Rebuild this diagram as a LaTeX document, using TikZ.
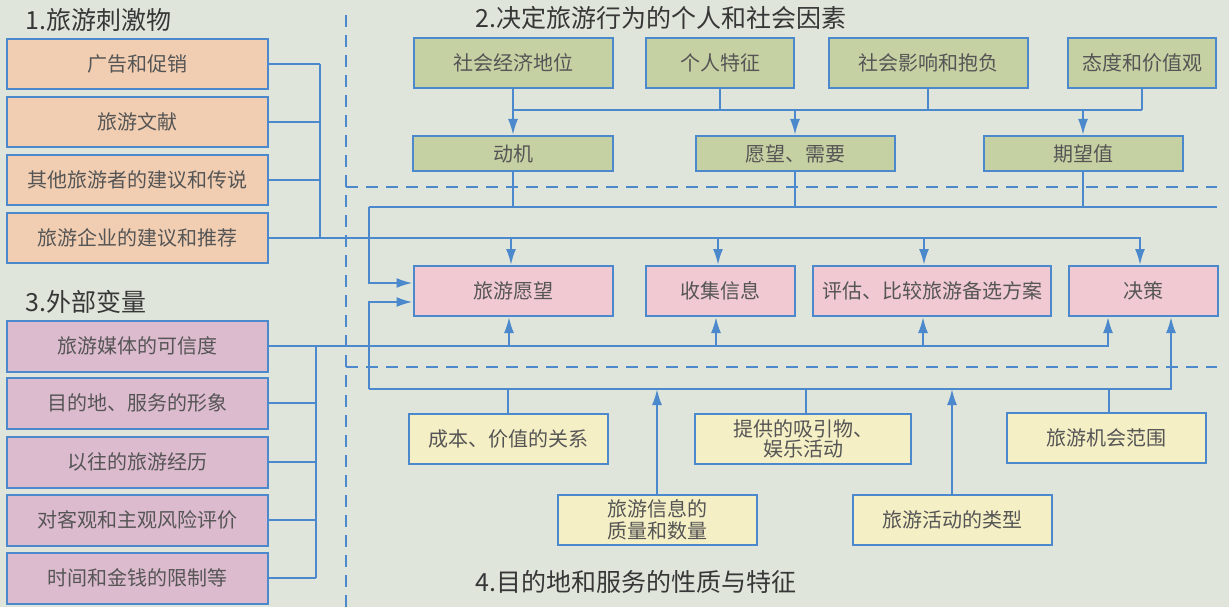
\documentclass[tikz,border=0pt]{standalone}
\usepackage{fontspec}
\setmainfont{Noto Sans CJK SC}
\usetikzlibrary{arrows.meta,calc}
\definecolor{bgcolor}{RGB}{223,229,219}
\definecolor{linecolor}{RGB}{76,136,204}
\definecolor{stimfill}{RGB}{241,206,178}
\definecolor{factfill}{RGB}{198,209,163}
\definecolor{stepfill}{RGB}{240,201,211}
\definecolor{extfill}{RGB}{221,187,207}
\definecolor{destfill}{RGB}{245,239,197}
\definecolor{textgray}{RGB}{85,85,85}
\definecolor{headgray}{RGB}{55,55,55}
\tikzset{
    box/.style={
        draw=linecolor,
        line width=2pt,
        minimum height=50pt,
        inner sep=0pt,
        align=center,
        text=textgray,
        font=\fontsize{20}{22}\selectfont
    },
    stimulus/.style={box, fill=stimfill, minimum width=261pt},
    external/.style={box, fill=extfill, minimum width=261pt, minimum height=51pt},
    factor/.style={box, fill=factfill},
    stepbox/.style={box, fill=stepfill},
    dest/.style={box, fill=destfill, minimum width=199pt},
    link/.style={draw=linecolor, line width=2pt},
    feed/.style={link, -{Latex[length=16pt,width=10pt]}},
    divider/.style={draw=linecolor, line width=1.6pt, dash pattern=on 12pt off 8pt},
    heading/.style={anchor=west, text=headgray, font=\fontsize{25}{27}\selectfont},
}
\begin{document}
\begin{tikzpicture}[x=1pt, y=-1pt]
    \fill[bgcolor] (0,0) rectangle (1229,607);
    \useasboundingbox (0,0) rectangle (1229,607);

    % Headings
    \node[heading] (h1) at (22,20) {1.旅游刺激物};
    \node[heading] (h2) at (472,18) {2.决定旅游行为的个人和社会因素};
    \node[heading] (h3) at (22,302) {3.外部变量};
    \node[heading] (h4) at (472,582) {4.目的地和服务的性质与特征};

    % Dividers
    \draw[divider] (346,15) -- (346,607);
    \draw[divider] (346,187) -- (1217,187);
    \draw[divider] (346,367) -- (1217,367);

    % Tourism stimuli
    \node[stimulus] (s1) at (137.5,64) {广告和促销};
    \node[stimulus] (s2) at (137.5,122) {旅游文献};
    \node[stimulus] (s3) at (137.5,180) {其他旅游者的建议和传说};
    \node[stimulus] (s4) at (137.5,238) {旅游企业的建议和推荐};

    % External variables
    \node[external] (e1) at (137.5,346) {旅游媒体的可信度};
    \node[external] (e2) at (137.5,403) {目的地、服务的形象};
    \node[external] (e3) at (137.5,462) {以往的旅游经历};
    \node[external] (e4) at (137.5,520) {对客观和主观风险评价};
    \node[external] (e5) at (137.5,578) {时间和金钱的限制等};

    % Personal and social factors
    \node[factor, minimum width=199pt] (f1) at (513,63) {社会经济地位};
    \node[factor, minimum width=148pt] (f2) at (720,63) {个人特征};
    \node[factor, minimum width=199pt] (f3) at (928,63) {社会影响和抱负};
    \node[factor, minimum width=148pt] (f4) at (1142,63) {态度和价值观};
    \node[factor, minimum width=200pt, minimum height=35pt] (motive) at (513,153.5) {动机};
    \node[factor, minimum width=199pt, minimum height=35pt] (wish) at (795,153.5) {愿望、需要};
    \node[factor, minimum width=199pt, minimum height=35pt] (expect) at (1083,153.5) {期望值};

    % Decision steps
    \node[stepbox, minimum width=199pt] (desire) at (513,291) {旅游愿望};
    \node[stepbox, minimum width=149pt] (gather) at (720,291) {收集信息};
    \node[stepbox, minimum width=238pt] (assess) at (932,291) {评估、比较旅游备选方案};
    \node[stepbox, minimum width=149pt] (decide) at (1143,291) {决策};

    % Destination and services
    \node[dest] (d1) at (508,439) {成本、价值的关系};
    \node[dest, minimum width=216pt, font=\fontsize{20}{20}\selectfont] (d2) at (803,438.5) {提供的吸引物、\\娱乐活动};
    \node[dest] (d3) at (1106,437.5) {旅游机会范围};
    \node[dest, font=\fontsize{20}{22}\selectfont] (d4) at (657,520) {旅游信息的\\质量和数量};
    \node[dest] (d5) at (952,519.5) {旅游活动的类型};

    \coordinate (sv) at (320,0);
    \coordinate (ev) at (316,0);
    \coordinate (fj) at (0,110);
    \coordinate (fb) at (369,207);
    \coordinate (fbr) at (1217,207);
    \coordinate (bl) at (369,389);

    % Stimuli to the decision steps
    \foreach \n in {s1,s2,s3,s4}
      \draw[link] (\n.east) -- (\n.east -| sv);
    \draw[link] (s1.east -| sv) -- (s4.east -| sv);
    \draw[feed] (s4.east) -| ([xshift=-3pt]decide.north);
    \draw[feed] ([xshift=-2pt]desire.north |- s4.east) -- ([xshift=-2pt]desire.north);
    \draw[feed] ([xshift=-2pt]gather.north |- s4.east) -- ([xshift=-2pt]gather.north);
    \draw[feed] ([xshift=-8pt]assess.north |- s4.east) -- ([xshift=-8pt]assess.north);

    % External variables to the decision steps
    \foreach \n in {e1,e2,e3,e4,e5}
      \draw[link] (\n.east) -- (\n.east -| ev);
    \draw[link] (e1.east -| ev) -- (e5.east -| ev);
    \draw[feed] (e1.east) -| ([xshift=-35pt]decide.south);
    \draw[feed] ([xshift=-4pt]desire.south |- e1.east) -- ([xshift=-4pt]desire.south);
    \draw[feed] ([xshift=-4pt]gather.south |- e1.east) -- ([xshift=-4pt]gather.south);
    \draw[feed] ([xshift=-9pt]assess.south |- e1.east) -- ([xshift=-9pt]assess.south);

    % Factors
    \draw[link] (f1.south |- fj) -- (f4.south |- fj);
    \foreach \n in {f2,f3,f4}
      \draw[link] (\n.south) -- (\n.south |- fj);
    \draw[feed] (f1.south) -- (motive.north);
    \draw[feed] (wish.north |- fj) -- (wish.north);
    \draw[feed] (expect.north |- fj) -- (expect.north);

    % Factors into the tourism desire
    \draw[link] (fbr) -- (fb);
    \foreach \n in {motive,wish,expect}
      \draw[link] (\n.south) -- (\n.south |- fb);
    \draw[feed] (fb) |- ([yshift=8pt]desire.west);

    % Destination into the decision steps
    \draw[feed] (bl) |- ([yshift=-11pt]desire.west);
    \draw[feed] (bl) -| ([xshift=28pt]decide.south);
    \draw[link] (d1.north) -- (d1.north |- bl);
    \draw[link] ([xshift=3pt]d2.north) -- ([xshift=3pt]d2.north |- bl);
    \draw[link] ([xshift=3pt]d3.north) -- ([xshift=3pt]d3.north |- bl);
    \draw[feed] (d4.north) -- (d4.north |- bl);
    \draw[feed] (d5.north) -- (d5.north |- bl);

\end{tikzpicture}
\end{document}
